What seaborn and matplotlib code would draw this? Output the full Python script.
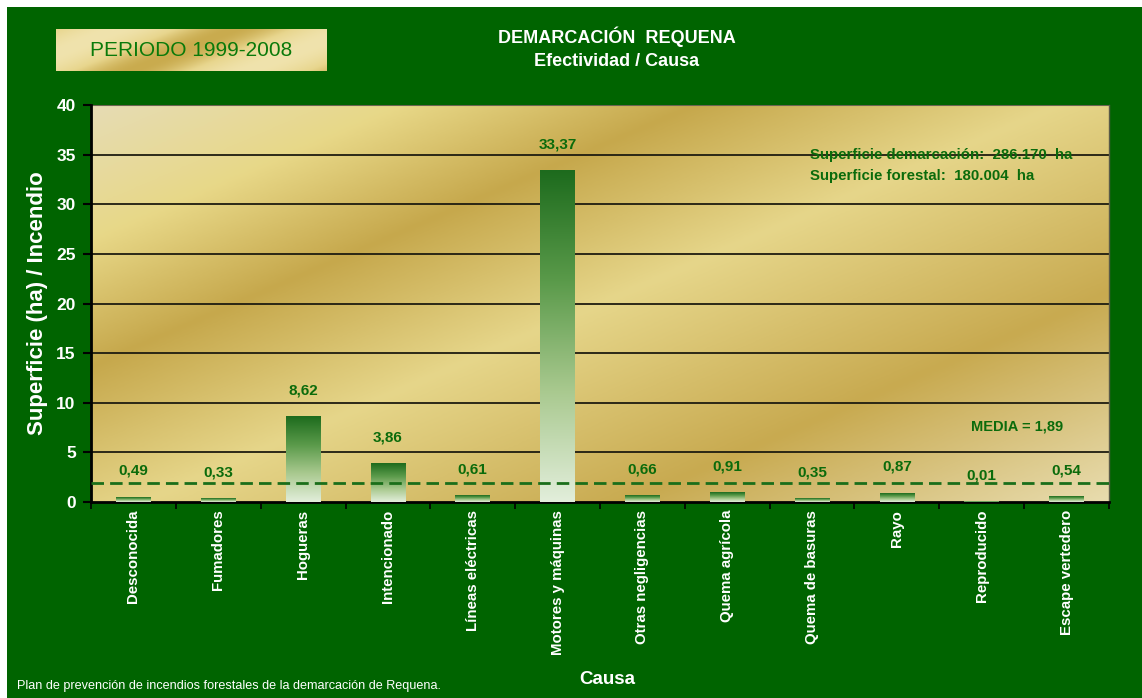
import numpy as np
import pandas as pd
import matplotlib
matplotlib.use("Agg")
import matplotlib.pyplot as plt
import seaborn as sns
from matplotlib.colors import LinearSegmentedColormap
from matplotlib.patches import Rectangle

causas = ["Desconocida", "Fumadores", "Hogueras", "Intencionado", "Líneas eléctricas",
          "Motores y máquinas", "Otras negligencias", "Quema agrícola", "Quema de basuras",
          "Rayo", "Reproducido", "Escape vertedero"]
valores = [0.49, 0.33, 8.62, 3.86, 0.61, 33.37, 0.66, 0.91, 0.35, 0.87, 0.01, 0.54]
etiquetas = ["0,49", "0,33", "8,62", "3,86", "0,61", "33,37", "0,66", "0,91", "0,35", "0,87", "0,01", "0,54"]
media = 1.89
yticks = [0, 5, 10, 15, 20, 25, 30, 35, 40]

sns.set_theme(style="white")
plt.rcParams['font.family'] = ['Liberation Sans Narrow', 'Liberation Sans', 'DejaVu Sans']

GREEN_BG = "#006400"
TXT_GREEN = "#0b6b0b"

fig = plt.figure(figsize=(11.42, 6.98), dpi=100)
fig.patch.set_facecolor("white")
fig.patches.append(Rectangle((7/1142, 0), 1 - 7/1142, 1 - 7/698, transform=fig.transFigure,
                             facecolor=GREEN_BG, edgecolor="none", zorder=-10))

ax = fig.add_axes([91/1142, (698-502)/698, (1109-91)/1142, (502-105)/698])

df = pd.DataFrame({"Causa": causas, "Valor": valores})
sns.barplot(data=df, x="Causa", y="Valor", ax=ax, width=0.41, color="#3a8a3a", zorder=3)

ax.set_xlim(-0.5, len(causas) - 0.5)
ax.set_ylim(0, 40)

# background gold gradient (diagonal bands)
gold = LinearSegmentedColormap.from_list("gold", [
    (0.0, "#e6dcb4"), (0.3 / 1.9, "#e8d888"), (0.59 / 1.9, "#c6a84c"),
    (0.95 / 1.9, "#e6d68a"), (1.43 / 1.9, "#c8aa50"), (1.0, "#e8dcae")])
nx, ny = 400, 200
uu, vv = np.meshgrid(np.linspace(0, 1, nx), np.linspace(0, 1, ny))
s = (uu + 0.9 * vv) / 1.9
ax.imshow(s, cmap=gold, extent=(-0.5, len(causas) - 0.5, 0, 40),
          aspect="auto", zorder=0, interpolation="bicubic")

# bar gradients
barcmap = LinearSegmentedColormap.from_list("bar", ["#e2eedb", "#a9c98f", "#5a9a4a", "#1d6b1d"])
grad = np.linspace(0, 1, 256).reshape(-1, 1)
for p in ax.patches:
    x0, y0 = p.get_x(), p.get_y()
    w, h = p.get_width(), p.get_height()
    p.set_facecolor("none")
    p.set_edgecolor("none")
    if h <= 0:
        continue
    ax.imshow(grad, cmap=barcmap, origin="lower", extent=(x0, x0 + w, y0, y0 + h),
              aspect="auto", zorder=3, interpolation="bilinear")

ax.set_xlim(-0.5, len(causas) - 0.5)
ax.set_ylim(0, 40)

# grid lines
for t in yticks[1:-1]:
    ax.axhline(t, color="#1e1c10", lw=1.3, zorder=2)
ax.axhline(40, color="#6a6450", lw=1.5, zorder=2)

# mean line
ax.axhline(media, color="#1a6e1a", lw=2.0, dashes=(4.5, 2.2), zorder=4)

# value labels
for i, (v, lab) in enumerate(zip(valores, etiquetas)):
    ax.annotate(lab, (i, v), xytext=(0, 14), textcoords="offset points", ha="center",
                va="bottom", color=TXT_GREEN, fontsize=11, fontweight="bold", zorder=5)

ax.text(0.706, 0.873, "Superficie demarcación:  286.170  ha", transform=ax.transAxes,
        color=TXT_GREEN, fontsize=10.8, fontweight="bold", va="center")
ax.text(0.706, 0.82, "Superficie forestal:  180.004  ha", transform=ax.transAxes,
        color=TXT_GREEN, fontsize=10.8, fontweight="bold", va="center")
ax.text(0.864, 0.19, "MEDIA = 1,89", transform=ax.transAxes,
        color=TXT_GREEN, fontsize=10.5, fontweight="bold", va="center")

# spines
for sp in ["left", "bottom"]:
    ax.spines[sp].set_color("black")
    ax.spines[sp].set_linewidth(2)
ax.spines["top"].set_visible(False)
ax.spines["right"].set_color("#5a5a48")
ax.spines["right"].set_linewidth(1)

ax.set_yticks(yticks)
ax.set_yticklabels([str(t) for t in yticks], color="white", fontsize=12.5, fontweight="bold")
ax.tick_params(axis="y", which="major", direction="out", length=6, width=1.5, color="black", pad=5, left=True)
ax.set_xticks(range(len(causas)))
ax.set_xticklabels(causas, rotation=90, color="white", fontsize=10.8, fontweight="bold")
ax.tick_params(axis="x", which="major", length=0, pad=5.5)
ax.set_xticks(np.arange(-0.5, len(causas), 1), minor=True)
ax.tick_params(axis="x", which="minor", direction="out", length=5, width=1.2, color="black", bottom=True)

ax.set_xlabel("")
ax.set_ylabel("Superficie (ha) / Incendio", color="white", fontsize=16, fontweight="bold", labelpad=6)

fig.text(607/1142, 1 - 680/698, "Causa", color="white", fontsize=13.5, fontweight="bold",
         ha="center", va="center")
fig.text(617/1142, 1 - 37/698, "DEMARCACIÓN  REQUENA", color="white", fontsize=13,
         fontweight="bold", ha="center", va="center")
fig.text(617/1142, 1 - 62/698, "Efectividad / Causa", color="white", fontsize=13,
         fontweight="bold", ha="center", va="center")
fig.text(17/1142, 1 - 686/698, "Plan de prevención de incendios forestales de la demarcación de Requena.",
         color="white", fontsize=9.1, ha="left", va="center")

# gold label box
bax = fig.add_axes([56/1142, 1 - 71/698, (327-56)/1142, (71-29)/698])
bxx, byy = np.meshgrid(np.linspace(0, 1, 200), np.linspace(0, 1, 40))
bd = (bxx * 0.8 + byy * 0.3)
bd = 0.5 + 0.5 * np.sin(bd * 9)
boxcmap = LinearSegmentedColormap.from_list("box", ["#c9ab4e", "#e8d68e", "#f0e3ad"])
bax.imshow(bd, cmap=boxcmap, aspect="auto", extent=(0, 1, 0, 1), interpolation="bicubic")
bax.set_xlim(0, 1); bax.set_ylim(0, 1)
bax.axis("off")
bax.text(0.5, 0.5, "PERIODO 1999-2008", color="#0a7a0a", fontsize=15, ha="center", va="center")

fig.savefig("out.png", dpi=100, facecolor=fig.get_facecolor())
